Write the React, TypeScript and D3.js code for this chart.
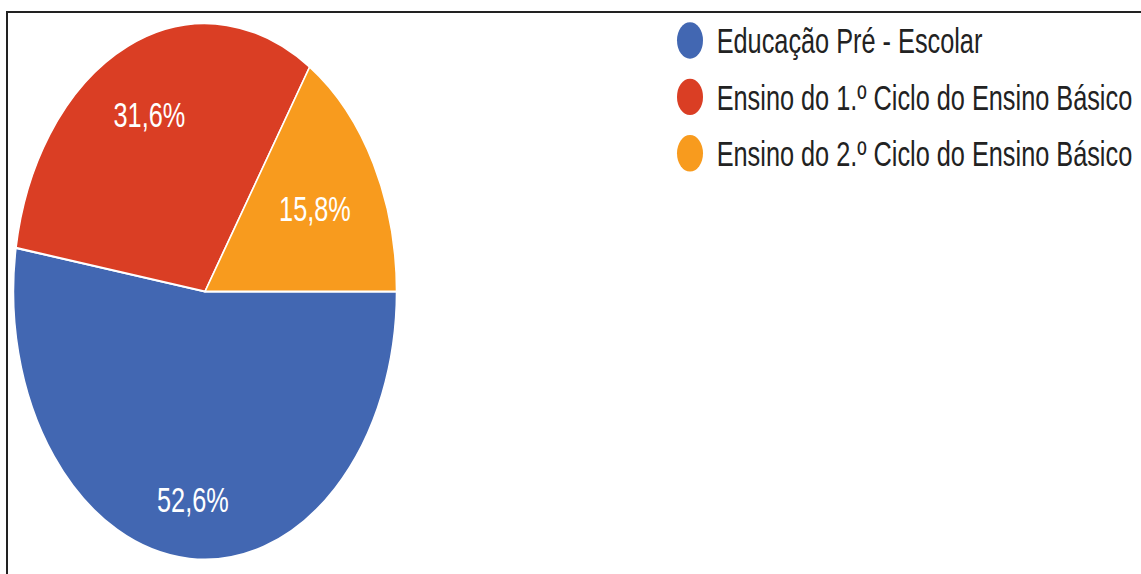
import React from 'react';
import * as d3 from 'd3';

// chart data
const categories = [
  'Educação Pré - Escolar',
  'Ensino do 1.º Ciclo do Ensino Básico',
  'Ensino do 2.º Ciclo do Ensino Básico',
];
const values = [52.6, 31.6, 15.8];
const sliceColors = ['#4267b2', '#da3e24', '#f89b1e'];

const width = 1141;
const height = 574;
const stretch = 1.4; // the source picture is stretched vertically

export default function App() {
  const cx = 205;
  const cy = 291.5 / stretch;
  const radius = 191.5;
  const labelSize = 25.3;
  const legendSize = 25.3;
  const font = '"Liberation Sans", Arial, sans-serif';

  const pt = d3.formatLocale({ decimal: ',', thousands: '.', grouping: [3], currency: ['', '€'] });
  const fmt = pt.format('.1%');
  const total = d3.sum(values);

  const pie = d3.pie<number>()
    .sort(null)
    .value(d => d)
    .startAngle(Math.PI / 2)
    .endAngle(Math.PI / 2 + 2 * Math.PI);

  const arc = d3.arc<d3.PieArcDatum<number>>()
    .innerRadius(0)
    .outerRadius(radius);

  const slices = pie(values);

  // label placement: point at 0.84r, pulled in by the text box projection
  const labelPos = (d: d3.PieArcDatum<number>, text: string) => {
    const a = (d.startAngle + d.endAngle) / 2;
    const sx = Math.sin(a);
    const sy = -Math.cos(a);
    const hw = text.length * labelSize * 0.283;
    const hh = labelSize * 0.36;
    const dist = radius * 0.84 - (Math.abs(sx) * hw + Math.abs(sy) * hh);
    return [sx * dist, sy * dist];
  };

  const legendY = d3.scalePoint<number>()
    .domain(d3.range(categories.length))
    .range([28.9, 28.9 + 40.3 * (categories.length - 1)]);

  return (
    <svg width={width} height={height} style={{ position: 'absolute', left: 0, top: 0, background: '#fff' }}>
      <path d={`M7,${height} V12 H${width}`} fill="none" stroke="#222" strokeWidth={2} />
      <g transform={`scale(1,${stretch})`}>
        <g transform={`translate(${cx},${cy})`}>
          {slices.map((d, i) => (
            <path key={i} d={arc(d) || ''} fill={sliceColors[i]} stroke="#fff" strokeWidth={1.5} strokeLinejoin="round" />
          ))}
          {slices.map((d, i) => {
            const txt = fmt(d.data / total);
            const [x, y] = labelPos(d, txt);
            return (
              <text key={i} x={x} y={y} dy="0.36em" textAnchor="middle" fill="#fff"
                fontFamily={font} fontSize={labelSize}>
                {txt}
              </text>
            );
          })}
        </g>
        <g>
          {categories.map((c, i) => (
            <g key={c} transform={`translate(690,${legendY(i)})`}>
              <circle r={13} fill={sliceColors[i]} />
              <text x={26.7} dy="0.36em" fill="#222" fontFamily={font} fontSize={legendSize}>
                {c}
              </text>
            </g>
          ))}
        </g>
      </g>
    </svg>
  );
}
